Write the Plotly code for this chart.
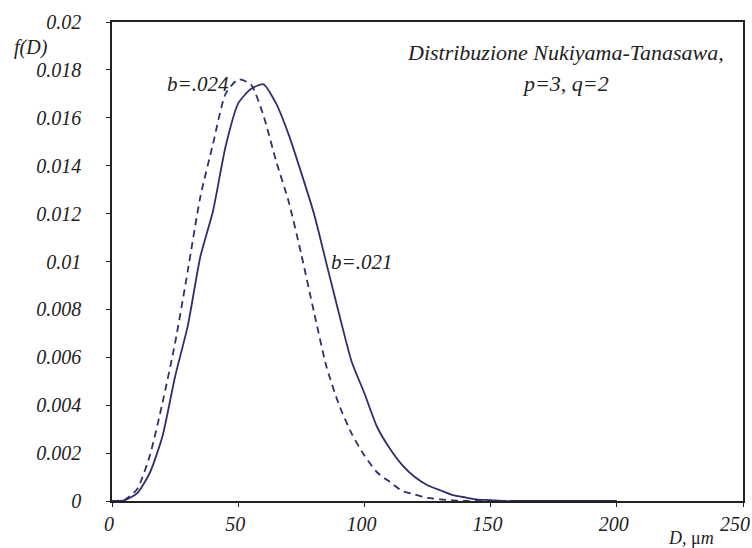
import plotly.graph_objects as go

# Droplet diameter D (µm)
D = [0, 5, 10, 15, 20, 25, 30, 35, 40, 45, 50, 55, 60, 65, 70, 75, 80, 85, 90, 95,
     100, 105, 110, 115, 120, 125, 130, 135, 140, 145, 150, 155, 160, 170, 180, 190, 200]

# f(D) for b = .021 (solid)
f_b021 = [0, 0.00003, 0.00033, 0.00118, 0.0027, 0.0052, 0.0073, 0.0102, 0.0121, 0.0148,
          0.0166, 0.0172, 0.0174, 0.0166, 0.0153, 0.0137, 0.0120, 0.0099, 0.0078, 0.0058,
          0.0045, 0.0031, 0.0022, 0.0015, 0.0010, 0.00066, 0.00045, 0.00025, 0.00015,
          0.00006, 0.00004, 0, 0, 0, 0, 0, 0]

# f(D) for b = .024 (dashed)
f_b024 = [0, 0.00005, 0.0005, 0.0019, 0.0041, 0.0066, 0.0096, 0.0127, 0.0149, 0.0170,
          0.0176, 0.0174, 0.0161, 0.0142, 0.0125, 0.0103, 0.0079, 0.0056, 0.0040, 0.0028,
          0.0019, 0.0012, 0.0008, 0.00042, 0.00027, 0.00013, 0.00007, 0.00003, 0,
          0, 0, 0, 0, 0, 0, 0, 0]

y_tickvals = [0, 0.002, 0.004, 0.006, 0.008, 0.01, 0.012, 0.014, 0.016, 0.018, 0.02]
y_ticktext = ["0", "0.002", "0.004", "0.006", "0.008", "0.01", "0.012", "0.014", "0.016", "0.018", "0.02"]
x_tickvals = [0, 50, 100, 150, 200, 250]
x_ticktext = ["0", "50", "100", "150", "200", "250\u00a0\u00a0"]

navy = "#2e2f6b"
FONT = "Liberation Serif"
W, H = 752, 548
L, R, T, B = 112, 9, 22, 47
PW, PH = W - L - R, H - T - B


def px_to_paper(px, py):
    return (px - L) / PW, (H - B - py) / PH


fig = go.Figure()
fig.add_trace(go.Scatter(x=D, y=f_b024, mode="lines", line_shape="spline",
                         line=dict(color=navy, width=1.8, dash="7px,5px", smoothing=0.6),
                         name="b=.024", showlegend=False))
fig.add_trace(go.Scatter(x=D, y=f_b021, mode="lines", line_shape="spline",
                         line=dict(color=navy, width=1.8, smoothing=0.6),
                         name="b=.021", showlegend=False))

fd_x, fd_y = px_to_paper(31, 47)
du_x, du_y = px_to_paper(716, 538)

fig.update_layout(
    width=W, height=H,
    margin=dict(l=L, r=R, t=T, b=B),
    paper_bgcolor="white", plot_bgcolor="white",
    font=dict(family=FONT, size=20, color="#222222", style="italic"),
    xaxis=dict(range=[0, 250], tickvals=x_tickvals, ticktext=x_ticktext,
               showgrid=False, zeroline=False, showline=True, mirror=True,
               linecolor="#222222", linewidth=1.6, ticks="outside", ticklen=4,
               tickcolor="#222222", ticklabelshift=-3, ticklabeloverflow="allow",
               automargin=False,
               tickfont=dict(family=FONT, size=20, style="italic")),
    yaxis=dict(range=[0, 0.02], tickvals=y_tickvals, ticktext=y_ticktext,
               showgrid=False, zeroline=False, showline=True, mirror=True,
               linecolor="#222222", linewidth=1.6, ticks="outside", ticklen=4,
               tickcolor="#222222", ticklabelstandoff=21, automargin=False,
               tickfont=dict(family=FONT, size=20, style="italic")),
    annotations=[
        dict(text="f(D)", x=fd_x, y=fd_y, xref="paper", yref="paper", showarrow=False,
             xanchor="center", yanchor="middle", font=dict(size=20, style="italic")),
        dict(text="Distribuzione Nukiyama-Tanasawa,", xref="paper", yref="paper",
             x=px_to_paper(565, 0)[0], y=px_to_paper(0, 52)[1], showarrow=False,
             xanchor="center", yanchor="middle", font=dict(size=22, style="italic")),
        dict(text="p=3, q=2", xref="paper", yref="paper",
             x=px_to_paper(565, 0)[0], y=px_to_paper(0, 83)[1], showarrow=False,
             xanchor="center", yanchor="middle", font=dict(size=22, style="italic")),
        dict(text="b=.024", x=47, y=0.0174, xref="x", yref="y", showarrow=False,
             xanchor="right", yanchor="middle", font=dict(size=21, style="italic")),
        dict(text="b=.021", x=86, y=0.0100, xref="x", yref="y", showarrow=False,
             xanchor="left", yanchor="middle", font=dict(size=21, style="italic")),
        dict(text="<i>D,</i> μ<i>m</i>", x=du_x, y=du_y, showarrow=False,
             xref="paper", yref="paper", xanchor="right", yanchor="middle",
             font=dict(size=18, style="normal")),
    ],
)

fig.write_html("out.html", config={"displayModeBar": False},
               post_script="document.body.style.margin='0';document.body.style.padding='0';")
